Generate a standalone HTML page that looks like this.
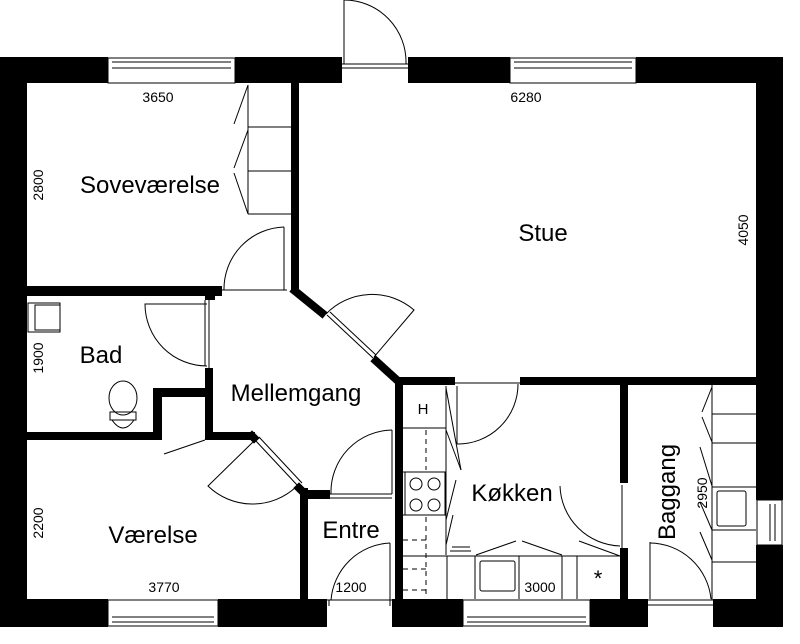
<!DOCTYPE html>
<html><head><meta charset="utf-8"><style>
html,body{margin:0;padding:0;background:#fff;}
svg{display:block;}
text{font-family:"Liberation Sans",sans-serif;fill:#000;}
</style></head><body>
<svg width="800" height="644" viewBox="0 0 800 644" xmlns="http://www.w3.org/2000/svg">
<g fill="#000">
<rect x="0" y="57" width="108" height="26"/>
<rect x="235" y="57" width="107" height="26"/>
<rect x="408" y="57" width="102" height="26"/>
<rect x="636" y="57" width="147" height="26"/>
<rect x="0" y="57" width="27" height="570"/>
<rect x="756" y="57" width="27" height="443"/>
<rect x="756" y="545" width="27" height="82"/>
<rect x="0" y="599" width="108" height="28"/>
<rect x="218" y="599" width="109" height="28"/>
<rect x="392" y="599" width="71" height="28"/>
<rect x="590" y="599" width="58" height="28"/>
<rect x="713" y="599" width="70" height="28"/>
<rect x="291" y="83" width="8" height="208"/>
<rect x="27" y="286" width="195" height="10"/>
<rect x="205" y="286" width="10" height="14"/>
<rect x="205" y="368" width="8" height="72"/>
<rect x="153" y="388" width="60" height="9"/>
<rect x="153" y="388" width="9" height="52"/>
<rect x="27" y="432" width="135" height="8"/>
<rect x="205" y="432" width="50" height="8"/>
<rect x="300" y="488" width="8" height="112"/>
<rect x="300" y="490" width="30" height="9"/>
<rect x="395" y="377" width="8" height="223"/>
<rect x="395" y="377" width="60" height="8"/>
<rect x="520" y="377" width="236" height="8"/>
<rect x="620" y="377" width="8" height="106"/>
<rect x="620" y="548" width="8" height="52"/>
</g>
<g stroke="#000" stroke-width="8" stroke-linecap="square" fill="none">
<line x1="295" y1="291" x2="322" y2="313"/>
<line x1="376" y1="361" x2="398" y2="381"/>
<line x1="252" y1="436" x2="254" y2="438"/>
<line x1="299" y1="488" x2="303" y2="492"/>
</g>
<g stroke="#000" stroke-width="1" fill="none">
<rect x="108" y="58" width="127" height="25"/><line x1="112" y1="62" x2="231" y2="62"/><line x1="112" y1="68" x2="231" y2="68"/>
<rect x="510" y="58" width="126" height="25"/><line x1="514" y1="62" x2="632" y2="62"/><line x1="514" y1="68" x2="632" y2="68"/>
<rect x="108" y="600" width="110" height="26"/><line x1="112" y1="617" x2="214" y2="617"/><line x1="112" y1="622" x2="214" y2="622"/>
<rect x="463" y="600" width="127" height="26"/><line x1="467" y1="617" x2="586" y2="617"/><line x1="467" y1="622" x2="586" y2="622"/>
<rect x="757" y="500" width="25" height="45"/><line x1="770" y1="504" x2="770" y2="541"/><line x1="775" y1="504" x2="775" y2="541"/>
<line x1="344" y1="64" x2="344" y2="0"/><path d="M344 0 A62 62 0 0 1 406 64"/><line x1="342" y1="64" x2="408" y2="64"/><line x1="342" y1="68" x2="408" y2="68"/>
<line x1="284" y1="290" x2="284" y2="227"/><path d="M284 227 A62 62 0 0 0 224 290"/><line x1="222" y1="290" x2="287" y2="290"/>
<line x1="248" y1="85" x2="248" y2="214"/><line x1="248" y1="127" x2="291" y2="127"/><line x1="248" y1="171" x2="291" y2="171"/><line x1="248" y1="214" x2="291" y2="214"/>
<line x1="248" y1="85" x2="234" y2="124"/><line x1="248" y1="130" x2="234" y2="168"/><line x1="234" y1="173" x2="248" y2="214"/>
<line x1="327" y1="315" x2="373" y2="358"/><line x1="330" y1="312" x2="376" y2="355"/><path d="M326 314 A64 64 0 0 1 414 310 L374 357"/>
<line x1="209" y1="300" x2="209" y2="368"/><line x1="205" y1="366" x2="205" y2="300"/><path d="M207 366 A62 62 0 0 1 145 304 L207 304"/>
<rect x="35" y="305" width="25" height="25"/><rect x="28" y="303" width="32" height="29"/>
<ellipse cx="123" cy="398" rx="14" ry="17"/><rect x="110" y="412" width="26" height="8"/><path d="M112 420 Q123 436 134 420"/>
<line x1="255" y1="440" x2="298" y2="486"/><line x1="259" y1="437" x2="302" y2="483"/><path d="M254 441 L208 486 A64 64 0 0 0 296 487"/>
<line x1="164" y1="454" x2="205" y2="440"/>
<line x1="330" y1="494" x2="392" y2="494"/><line x1="330" y1="498" x2="392" y2="498"/><line x1="392" y1="430" x2="392" y2="494"/><path d="M392 430 A62 62 0 0 0 331 494"/>
<line x1="390" y1="543" x2="390" y2="600"/><path d="M390 543 A62 62 0 0 0 331 600"/><line x1="327" y1="600" x2="392" y2="600"/><line x1="329" y1="600" x2="329" y2="606"/><line x1="390" y1="600" x2="390" y2="606"/>
<line x1="457" y1="386" x2="457" y2="444"/><path d="M457 444 A60 60 0 0 0 518 384"/><line x1="455" y1="383" x2="520" y2="383"/>
<line x1="446" y1="386" x2="446" y2="555"/><line x1="403" y1="428" x2="446" y2="428"/><line x1="403" y1="472" x2="446" y2="472"/><line x1="403" y1="515" x2="446" y2="515"/>
<rect x="405" y="472" width="40" height="43"/>
<circle cx="416" cy="484" r="6"/><circle cx="434" cy="484" r="6"/><circle cx="416" cy="505" r="6"/><circle cx="434" cy="505" r="6"/>
<line x1="426" y1="430" x2="426" y2="470" stroke-dasharray="5,4"/><line x1="426" y1="517" x2="426" y2="598" stroke-dasharray="5,4"/>
<line x1="403" y1="540" x2="426" y2="540" stroke-dasharray="5,4"/><line x1="403" y1="569" x2="426" y2="569" stroke-dasharray="5,4"/><line x1="403" y1="590" x2="426" y2="590" stroke-dasharray="5,4"/>
<line x1="446" y1="556" x2="620" y2="556"/><line x1="403" y1="556" x2="446" y2="556"/>
<line x1="447" y1="556" x2="447" y2="599"/><line x1="475" y1="556" x2="475" y2="599"/><line x1="519" y1="556" x2="519" y2="599"/><line x1="562" y1="556" x2="562" y2="599"/><line x1="577" y1="556" x2="577" y2="599"/>
<rect x="480" y="561" width="35" height="30" rx="2"/>
<line x1="446" y1="388" x2="461" y2="470"/><line x1="446" y1="430" x2="461" y2="470"/><line x1="446" y1="520" x2="456" y2="480"/><line x1="446" y1="545" x2="453" y2="515"/>
<line x1="452" y1="547" x2="470" y2="547"/><line x1="450" y1="551" x2="471" y2="551"/>
<line x1="476" y1="555" x2="516" y2="541"/><line x1="522" y1="541" x2="562" y2="555"/>
<line x1="622" y1="485" x2="622" y2="548"/><path d="M560 486 A62 62 0 0 0 620 546"/><line x1="579" y1="541" x2="620" y2="556"/>
<line x1="650" y1="542" x2="650" y2="599"/><path d="M650 543 A62 62 0 0 1 711 599"/><line x1="648" y1="600" x2="713" y2="600"/><line x1="648" y1="605" x2="713" y2="605"/>
<line x1="712" y1="385" x2="712" y2="600"/><line x1="712" y1="414" x2="756" y2="414"/><line x1="712" y1="443" x2="756" y2="443"/><line x1="712" y1="487" x2="756" y2="487"/><line x1="712" y1="530" x2="756" y2="530"/><line x1="712" y1="562" x2="756" y2="562"/>
<rect x="717" y="491" width="29" height="35" rx="2"/>
<line x1="712" y1="387" x2="702" y2="412"/><line x1="702" y1="417" x2="712" y2="442"/><line x1="700" y1="447" x2="712" y2="486"/><line x1="700" y1="502" x2="712" y2="530"/><line x1="700" y1="532" x2="712" y2="560"/>
</g>
<g font-size="24">
<text x="150" y="193" text-anchor="middle">Soveværelse</text>
<text x="543" y="241" text-anchor="middle">Stue</text>
<text x="101" y="363" text-anchor="middle">Bad</text>
<text x="296" y="401" text-anchor="middle">Mellemgang</text>
<text x="512" y="501" text-anchor="middle">Køkken</text>
<text x="351" y="538" text-anchor="middle">Entre</text>
<text x="153" y="543" text-anchor="middle">Værelse</text>
<text transform="translate(675,492) rotate(-90)" text-anchor="middle">Baggang</text>
</g>
<text x="423" y="414" font-size="15" text-anchor="middle">H</text>
<text x="598" y="586" font-size="22" text-anchor="middle">*</text>
<g font-size="14">
<text x="158" y="102" text-anchor="middle">3650</text>
<text x="526" y="102" text-anchor="middle">6280</text>
<text x="164" y="592" text-anchor="middle">3770</text>
<text x="351" y="592" text-anchor="middle">1200</text>
<text x="540" y="592" text-anchor="middle">3000</text>
<text transform="translate(43,185) rotate(-90)" text-anchor="middle">2800</text>
<text transform="translate(43,358) rotate(-90)" text-anchor="middle">1900</text>
<text transform="translate(43,523) rotate(-90)" text-anchor="middle">2200</text>
<text transform="translate(748,230) rotate(-90)" text-anchor="middle">4050</text>
<text transform="translate(707,493) rotate(-90)" text-anchor="middle">2950</text>
</g>
</svg>
</body></html>
